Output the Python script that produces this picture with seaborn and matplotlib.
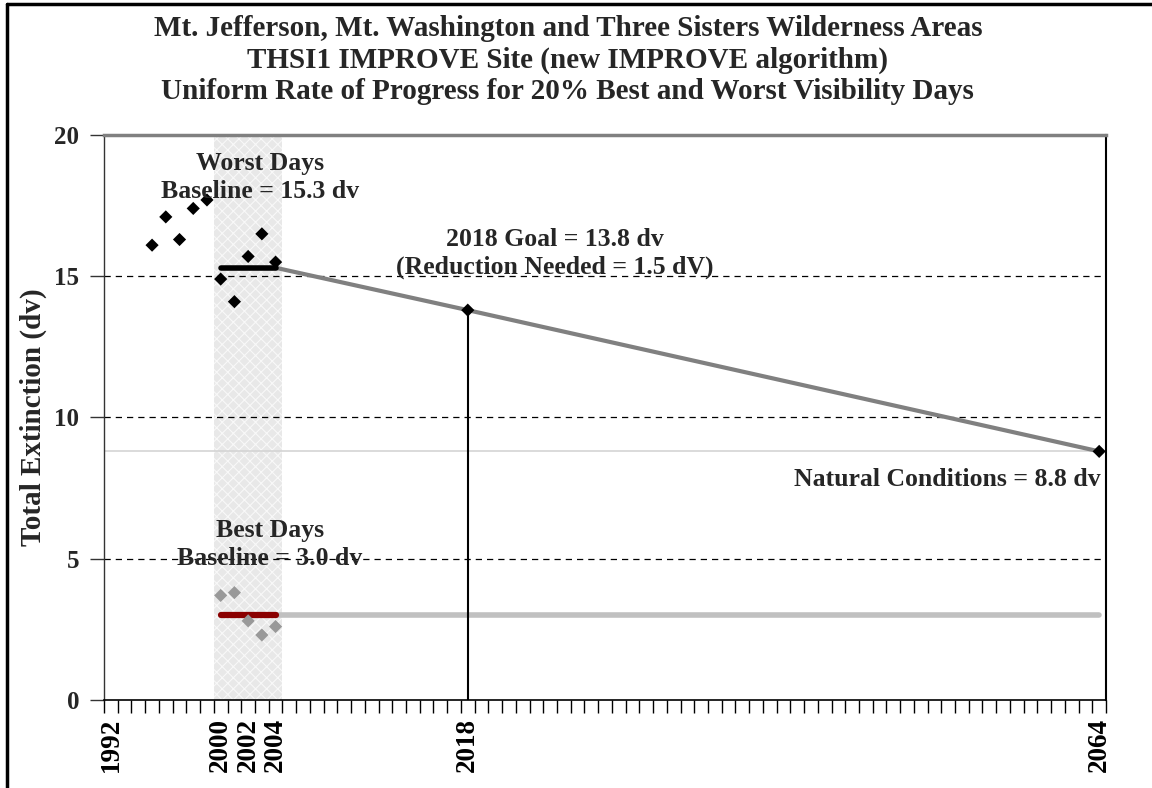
import numpy as np
import pandas as pd
import matplotlib
matplotlib.use('Agg')
import matplotlib.pyplot as plt
import seaborn as sns
from matplotlib.lines import Line2D

# Chart data
worst_years = [1995, 1996, 1997, 1998, 1999, 2000, 2001, 2002, 2003, 2004]
worst_dv = [16.1, 17.1, 16.3, 17.4, 17.7, 14.9, 14.1, 15.7, 16.5, 15.5]
best_years = [2000, 2001, 2002, 2003, 2004]
best_dv = [3.7, 3.8, 2.8, 2.3, 2.6]
baseline_years = [2000, 2004]
worst_baseline = 15.3
best_baseline = 3.0
goal_year = 2018
goal_dv = 13.8
end_year = 2064
natural_dv = 8.8
label_years = [1992, 2000, 2002, 2004, 2018, 2064]
y_ticks = [0, 5, 10, 15, 20]

sns.set_theme(style='white')
plt.rcParams['font.family'] = ['Liberation Serif', 'DejaVu Serif']
plt.rcParams['font.weight'] = 'bold'
plt.rcParams['hatch.linewidth'] = 0.8

fig = plt.figure(figsize=(11.52, 7.88), dpi=100)
ax = fig.add_axes([0.0903, 0.1117, 0.8698, 0.717])

xmin, xmax = label_years[0] - 0.5, end_year + 0.5

# baseline period shading
ax.axvspan(baseline_years[0] - 0.5, baseline_years[1] + 0.5, facecolor='#e8e8e8',
           edgecolor='#f8f8f8', hatch='xxx', linewidth=0, zorder=0)

# grid lines
for v in y_ticks[1:-1]:
    ax.axhline(v, color='black', linestyle=(0, (5, 4)), linewidth=0.9, zorder=1)

# natural conditions line
ax.axhline(natural_dv, color='#d4d4d4', linewidth=1.2, zorder=1)

# glide paths
glide = pd.DataFrame({'year': [baseline_years[1], goal_year, end_year],
                      'dv': [worst_baseline, goal_dv, natural_dv]})
sns.lineplot(data=glide, x='year', y='dv', color='#808080', linewidth=3, ax=ax, zorder=3)
best_glide = pd.DataFrame({'year': [baseline_years[1], end_year], 'dv': [best_baseline, best_baseline]})
sns.lineplot(data=best_glide, x='year', y='dv', color='#c0c0c0', linewidth=4, ax=ax, zorder=3,
             solid_capstyle='round')

# baselines
wb = pd.DataFrame({'year': baseline_years, 'dv': [worst_baseline] * 2})
sns.lineplot(data=wb, x='year', y='dv', color='black', linewidth=4, ax=ax, zorder=4)
bb = pd.DataFrame({'year': baseline_years, 'dv': [best_baseline] * 2})
sns.lineplot(data=bb, x='year', y='dv', color='#8b0000', linewidth=4.5, ax=ax, zorder=4)

# 2018 vertical line
ax.plot([goal_year, goal_year], [0, goal_dv], color='black', linewidth=1.5, zorder=4)

# annual points
sns.scatterplot(x=worst_years, y=worst_dv, marker='D', color='black', s=45, edgecolor='none',
                ax=ax, zorder=5)
sns.scatterplot(x=best_years, y=best_dv, marker='D', color='#999999', s=45, edgecolor='none',
                ax=ax, zorder=5)
sns.scatterplot(x=[goal_year, end_year], y=[goal_dv, natural_dv], marker='D', color='black', s=45,
                edgecolor='none', ax=ax, zorder=6)

ax.set_xlim(xmin, xmax)
ax.set_ylim(0, 20)
ax.set_xlabel('')
ax.set_ylabel('Total Extinction (dv)', fontsize=21, fontweight='bold', labelpad=5)

ax.set_xticks(label_years)
ax.set_xticklabels([str(y) for y in label_years], rotation=90, fontsize=19.5, fontweight='bold')
ax.set_xticks(np.arange(xmin, xmax + 0.1, 1), minor=True)
ax.tick_params(axis='x', which='major', length=0, pad=13, colors='black')
ax.tick_params(axis='x', which='minor', bottom=True, direction='out', length=9, width=1, color='black')
ax.set_yticks(y_ticks)
ax.set_yticklabels([str(v) for v in y_ticks], fontsize=18, fontweight='bold')
ax.tick_params(axis='y', which='major', left=True, direction='out', length=10, width=1,
               color='#333333', pad=8)

for side in ['left', 'right', 'bottom']:
    ax.spines[side].set_visible(True)
ax.spines['left'].set_color('#333333')
ax.spines['left'].set_linewidth(1)
ax.spines['right'].set_color('black')
ax.spines['right'].set_linewidth(1.5)
ax.spines['bottom'].set_color('black')
ax.spines['bottom'].set_linewidth(1.2)
ax.spines['top'].set_color('#808080')
ax.spines['top'].set_linewidth(2.5)

# annotations
ax.text(2002.9, 18.5, 'Worst Days\nBaseline = 15.3 dv', ha='center', va='center', fontsize=18.5,
        fontweight='bold', linespacing=1.25, zorder=7)
ax.text(2024.35, 15.8, '2018 Goal = 13.8 dv\n(Reduction Needed = 1.5 dV)', ha='center', va='center',
        fontsize=18.5, fontweight='bold', linespacing=1.25, zorder=7)
ax.text(2064.1, 7.8, 'Natural Conditions = 8.8 dv', ha='right', va='center', fontsize=18.5,
        fontweight='bold', zorder=7)
ax.text(2003.6, 5.5, 'Best Days\nBaseline = 3.0 dv', ha='center', va='center', fontsize=18.5,
        fontweight='bold', linespacing=1.25, zorder=7)

fig.text(0.493, 0.924, 'Mt. Jefferson, Mt. Washington and Three Sisters Wilderness Areas\n'
         'THSI1 IMPROVE Site (new IMPROVE algorithm)\n'
         'Uniform Rate of Progress for 20% Best and Worst Visibility Days',
         ha='center', va='center', fontsize=21, fontweight='bold', linespacing=1.2)

# outer frame (left and top edges)
fig.add_artist(Line2D([0.006, 0.006], [0, 0.995], transform=fig.transFigure, color='black', linewidth=2.5))
fig.add_artist(Line2D([0.006, 1.0], [0.995, 0.995], transform=fig.transFigure, color='black', linewidth=2.5))

fig.savefig('out.png', dpi=100)
